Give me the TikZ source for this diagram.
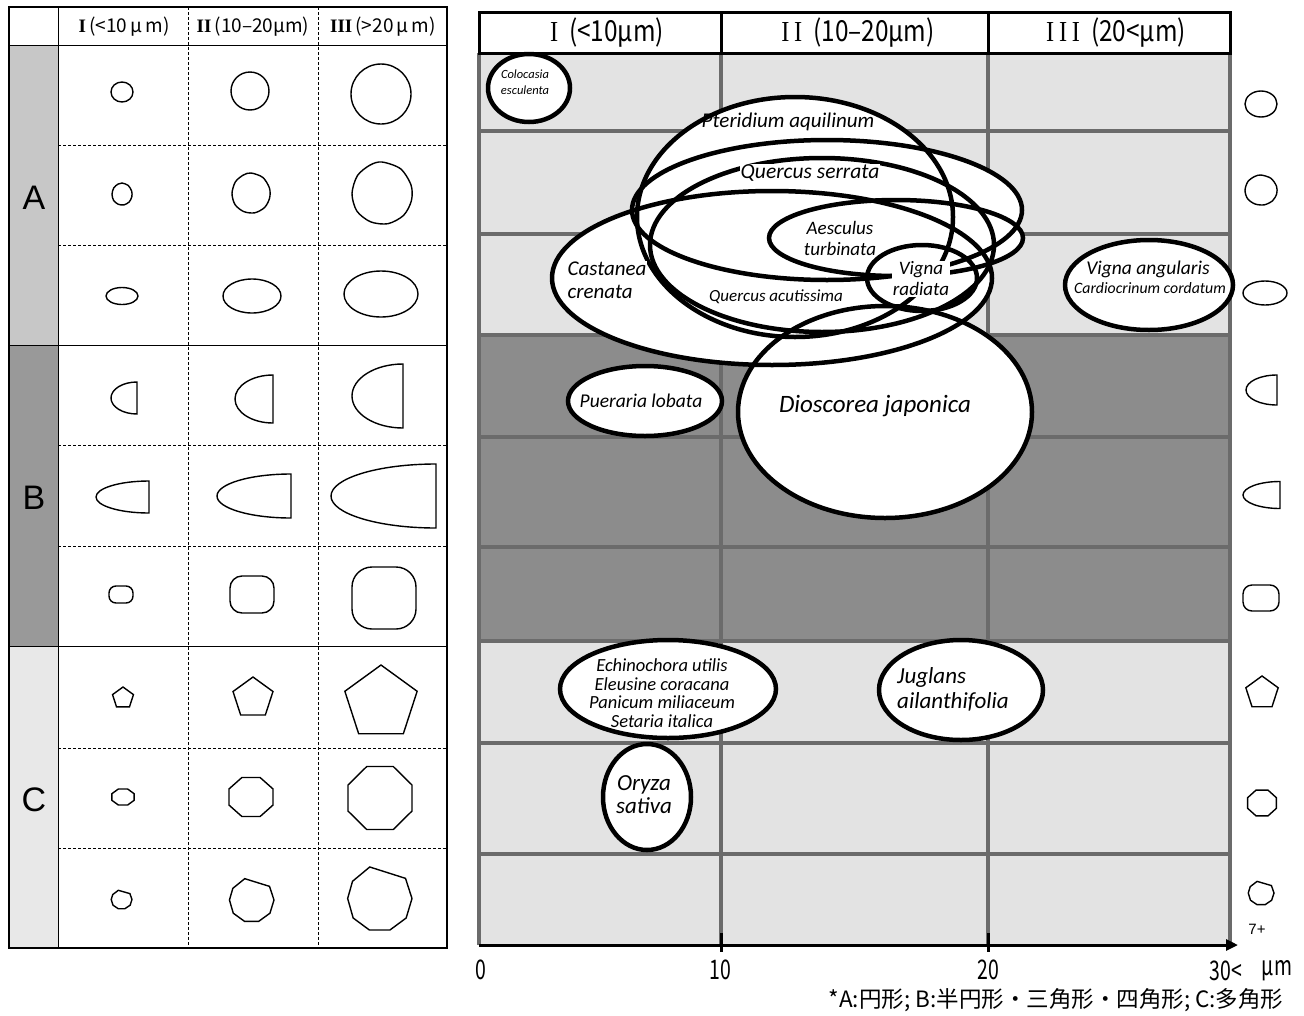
\documentclass[tikz,border=0pt]{standalone}
\usepackage{fontspec}
\setmainfont{Liberation Sans}
\newfontfamily\jpfont{Noto Sans CJK JP}
\newfontfamily\jpnarrow[FakeStretch=0.72]{Noto Sans CJK JP}
\newfontfamily\jphead[FakeStretch=0.84]{Noto Sans CJK JP}
\newfontfamily\romfont{Liberation Serif}
\newfontfamily\romhead[FakeStretch=0.84]{Liberation Serif}
\newfontfamily\spfont{Carlito}
\usetikzlibrary{arrows.meta}

\definecolor{bandA}{gray}{0.78}
\definecolor{bandB}{gray}{0.60}
\definecolor{bandC}{gray}{0.91}
\definecolor{cellL}{gray}{0.89}
\definecolor{cellD}{gray}{0.55}
\definecolor{gridG}{gray}{0.42}

\newcommand{\fsize}[2]{\fontsize{#1}{#2}\selectfont}
\newcommand{\halfell}[4]{\draw[shp] (#1,{#2-#4/2}) arc[start angle=-90,end angle=-270,x radius=#3,y radius=#4/2] -- cycle;}
\newcommand{\rrect}[5]{\draw[shp,rounded corners=#5pt] ({#1-#3/2},{#2-#4/2}) rectangle ({#1+#3/2},{#2+#4/2});}
\newcommand{\ngon}[6]{\draw[shp] plot[domain=0:#3-1,samples=#3] ({#1+#4*cos(#6+360*\x/#3)},{#2+#5*sin(#6+360*\x/#3)}) -- cycle;}
\newcommand{\nonagon}[4]{\draw[shp,shift={(#1,#2)},xscale=#3,yscale=#4] (-.3,-.97) -- (.8,-.62) -- (1,0) -- (.82,.6) -- (.32,.97) -- (-.31,.97) -- (-.81,.6) -- (-.98,0) -- (-.83,-.53) -- cycle;}
\newcommand{\blob}[4]{\draw[shp,shift={(#1,#2)},xscale=#3,yscale=#4] plot[smooth cycle] coordinates {(0,-1) (.62,-.78) (.97,-.25) (.98,.25) (.72,.72) (.2,.99) (-.38,.93) (-.84,.58) (-1,.02) (-.82,-.56) (-.4,-.9)};}

\def\spplist{529/88/41/34, 795/217/158/120, 827/210/195/70, 822/245/172/87, 772/278/220/87, 896/238/127/38, 922/278/55/33, 645/401/77/35, 885/412/147/106, 1149/285/84/45, 668/689/108/49, 961/690/82/50, 647/797/44/53}

\begin{document}
\begin{tikzpicture}[x=1pt,y=-1pt,
    shp/.style={draw=black,line width=1.4pt},
    dashln/.style={densely dashed,line width=0.6pt},
    gridln/.style={draw=gridG,line width=3.5pt},
    grp/.style={font=\fsize{34}{36}},
    hdr/.style={font=\jpfont\fsize{19}{22}},
    rhdr/.style={font=\jphead\fsize{29}{32}},
    spp/.style 2 args={font=\spfont\itshape\fsize{#1}{#2},align=center,inner sep=1pt,fill=white},
    axlab/.style={font=\jpnarrow\fsize{27}{30}}]
  \useasboundingbox (0,0) rectangle (1304,1015);
  \fill[white] (0,0) rectangle (1304,1015);

  \fill[bandA] (9,45) rectangle (58,345);
  \fill[bandB] (9,345) rectangle (58,646);
  \fill[bandC] (9,646) rectangle (58,948);
  \foreach \y in {145,245,445,546,748,848}
    \draw[dashln] (58,\y) -- (447,\y);
  \foreach \x in {188,318}
    \draw[dashln] (\x,7) -- (\x,948);
  \foreach \y in {45,345,646}
    \draw[line width=0.8pt] (9,\y) -- (447,\y);
  \draw[line width=0.8pt] (58,7) -- (58,948);
  \draw[line width=1.5pt] (9,7) rectangle (447,948);
  \node[grp] (gA) at (34,198) {A};
  \node[grp] (gB) at (34,498) {B};
  \node[grp] (gC) at (34,800) {C};
  \node[hdr] (h1) at (124,27) {{\romfont\bfseries I}\,(<10\,μ\,m)};
  \node[hdr] (h2) at (253,27) {{\romfont\bfseries II}\,(10‒20μm)};
  \node[hdr] (h3) at (383,27) {{\romfont\bfseries III}\,(>20\,μ\,m)};

  \draw[shp] (122,92) ellipse[x radius=11,y radius=10];
  \draw[shp] (250,91) ellipse[x radius=19,y radius=19];
  \draw[shp] (381,94) ellipse[x radius=30,y radius=30];
  \blob{122}{194}{10}{11}
  \blob{251}{193}{19}{20}
  \blob{382}{193}{30}{31}
  \draw[shp] (122,296) ellipse[x radius=16,y radius=8.5];
  \draw[shp] (252,296) ellipse[x radius=29,y radius=17];
  \draw[shp] (381,294) ellipse[x radius=37,y radius=23];
  \halfell{137}{398}{26}{32}
  \halfell{273}{399}{38}{48}
  \halfell{403}{396}{51}{64}
  \halfell{149}{497}{53}{32}
  \halfell{291}{496}{74}{44}
  \halfell{436}{496}{105}{64}
  \rrect{121}{594.5}{24}{17}{7}
  \rrect{252}{594.5}{44}{37}{12}
  \rrect{384}{598}{64}{62}{20}
  \ngon{123}{698}{5}{11}{11}{-90}
  \ngon{253}{698}{5}{21}{21}{-90}
  \ngon{381}{703}{5}{38}{38}{-90}
  \ngon{123}{797}{8}{12}{8.7}{22.5}
  \ngon{251}{797}{8}{23.8}{21.1}{22.5}
  \ngon{380}{798}{8}{34.6}{34.1}{22.5}
  \nonagon{121.5}{899.5}{10.5}{9.5}
  \nonagon{251.5}{900}{22.5}{22}
  \nonagon{379.5}{898.5}{32.5}{32.5}

  \fill[cellL] (479,53) rectangle (1230,335);
  \fill[cellD] (479,335) rectangle (1230,641);
  \fill[cellL] (479,641) rectangle (1230,945);
  \foreach \y in {131,234,335,437,547,641,743,854}
    \draw[gridln] (479,\y) -- (1230,\y);
  \foreach \x in {479,721,988,1230}
    \draw[gridln] (\x,53) -- (\x,945);
  \draw[line width=3pt,fill=white] (479,12) rectangle (1230,53);
  \draw[line width=3pt] (721,12) -- (721,53) (988,12) -- (988,53);
  \node[rhdr] (r1) at (607,33) {{\romhead I}\ \ (<10μm)};
  \node[rhdr] (r2) at (858,33) {{\romhead I\,I}\ \ (10‒20μm)};
  \node[rhdr] (r3) at (1116,33) {{\romhead I\,I\,I}\ \ (20<μm)};

  \foreach \cx/\cy/\rx/\ry in \spplist
    \fill[white] (\cx,\cy) ellipse[x radius=\rx,y radius=\ry];
  \foreach \cx/\cy/\rx/\ry in \spplist
    \draw[line width=4.5pt] (\cx,\cy) ellipse[x radius=\rx,y radius=\ry];

  \node[spp={12.5}{16}] (colo) at (525,82) {Colocasia\\esculenta};
  \node[spp={21}{24},fill=none] (pter) at (788,122) {Pteridium aquilinum};
  \node[spp={21.5}{24}] (qser) at (810,173) {Quercus serrata};
  \node[spp={19}{21}] (aesc) at (840,238) {Aesculus\\turbinata};
  \node[spp={21}{23},align=left] (cast) at (607,280) {Castanea\\crenata};
  \node[spp={19}{21}] (vrad) at (921,279) {Vigna\\radiata};
  \node[spp={17}{18}] (qacu) at (776,297) {Quercus acutissima};
  \node[spp={19.5}{21}] (puer) at (641,401) {Pueraria lobata};
  \node[spp={25}{26}] (dios) at (875,406) {Dioscorea japonica};
  \node[spp={19.5}{20}] (vang) at (1148,269) {Vigna angularis};
  \node[spp={15.8}{16}] (card) at (1150,288) {Cardiocrinum cordatum};
  \node[spp={18.5}{18.7},fill=none] (echi) at (662,693) {Echinochora utilis\\Eleusine coracana\\Panicum miliaceum\\Setaria italica};
  \node[spp={23}{25},align=left] (jugl) at (953,689) {Juglans\\ailanthifolia};
  \node[spp={23}{23}] (oryz) at (644,795) {Oryza\\sativa};

  \draw[shp] (1261,104) ellipse[x radius=16,y radius=13];
  \blob{1261}{190}{16}{15}
  \draw[shp] (1265,293) ellipse[x radius=22,y radius=12];
  \halfell{1277}{390}{31}{30}
  \halfell{1280}{495}{37}{27}
  \rrect{1261}{598}{36}{26}{9}
  \ngon{1262}{693}{5}{17}{17}{-90}
  \ngon{1262}{803}{8}{15.5}{14}{22.5}
  \nonagon{1261}{893}{13}{12}
  \node (sev) at (1257,929) {\fsize{15}{16}7+};

  \coordinate (o) at (479,945);
  \coordinate (xend) at (1238,945);
  \draw[line width=3pt,-{Triangle[length=12pt,width=11pt]}] (o) -- (xend);
  \foreach \x in {721,988}
    \draw[line width=3pt] (\x,933) -- (\x,952);
  \node[axlab] (t0) at (481,970) {0};
  \node[axlab] (t10) at (720,970) {10};
  \node[axlab] (t20) at (988,970) {20};
  \node[axlab] (t30) at (1226,971) {30<};
  \node[axlab] (um) at (1277,971) {μm};
  \node[anchor=east,font=\jpfont\fsize{22.5}{24}] (note) at (1287,1000) {*A:円形; B:半円形・三角形・四角形; C:多角形};
\end{tikzpicture}
\end{document}
